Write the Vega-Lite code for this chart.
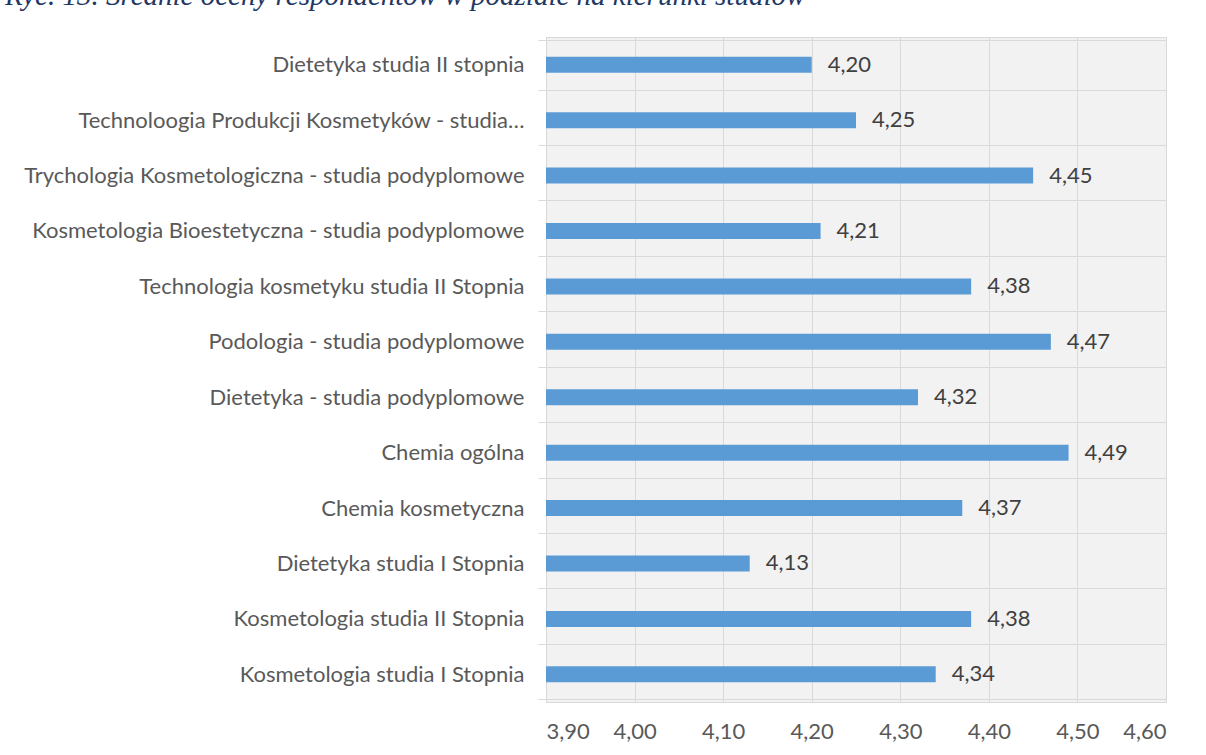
{
  "$schema": "https://vega.github.io/schema/vega-lite/v6.json",
  "autosize": {"type": "none"},
  "padding": {"left": 546, "top": 37, "right": 40, "bottom": 53},
  "width": 620,
  "height": 665,
  "background": "white",
  "title": {
    "text": "Ryc. 13. Średnie oceny respondentów w podziale na kierunki studiów",
    "anchor": "start",
    "frame": "group",
    "baseline": "alphabetic",
    "offset": 10,
    "dy": 18,
    "dx": -541,
    "font": "Liberation Serif",
    "fontSize": 29,
    "fontStyle": "italic",
    "fontWeight": "normal",
    "color": "#1F3864"
  },
  "config": {
    "locale": {"number": {"decimal": ",", "thousands": " ", "grouping": [3], "currency": ["", " zł"]}},
    "view": {"fill": "#f2f2f2", "stroke": "#d9d9d9", "strokeWidth": 1}
  },
  "data": {
    "values": [
      {"kierunek": "Dietetyka studia II stopnia", "ocena": 4.20},
      {"kierunek": "Technoloogia Produkcji Kosmetyków - studia…", "ocena": 4.25},
      {"kierunek": "Trychologia Kosmetologiczna - studia podyplomowe", "ocena": 4.45},
      {"kierunek": "Kosmetologia Bioestetyczna - studia podyplomowe", "ocena": 4.21},
      {"kierunek": "Technologia kosmetyku studia II Stopnia", "ocena": 4.38},
      {"kierunek": "Podologia - studia podyplomowe", "ocena": 4.47},
      {"kierunek": "Dietetyka - studia podyplomowe", "ocena": 4.32},
      {"kierunek": "Chemia ogólna", "ocena": 4.49},
      {"kierunek": "Chemia kosmetyczna", "ocena": 4.37},
      {"kierunek": "Dietetyka studia I Stopnia", "ocena": 4.13},
      {"kierunek": "Kosmetologia studia II Stopnia", "ocena": 4.38},
      {"kierunek": "Kosmetologia studia I Stopnia", "ocena": 4.34}
    ]
  },
  "encoding": {
    "y": {
      "field": "kierunek",
      "type": "nominal",
      "sort": null,
      "axis": {
        "title": null,
        "tickBand": "extent",
        "grid": true,
        "gridColor": "#d9d9d9",
        "gridWidth": 1,
        "ticks": true,
        "tickSize": 8,
        "tickColor": "#d9d9d9",
        "domain": false,
        "labelFont": "Lato",
        "labelFontSize": 22,
        "labelColor": "#595959",
        "labelPadding": 14,
        "labelLimit": 600
      }
    }
  },
  "layer": [
    {
      "mark": {"type": "bar", "color": "#5B9BD5", "size": 16},
      "encoding": {
        "x": {
          "field": "ocena",
          "type": "quantitative",
          "scale": {"domain": [3.9, 4.6], "zero": false, "nice": false},
          "axis": {
            "title": null,
            "values": [3.9, 4.0, 4.1, 4.2, 4.3, 4.4, 4.5, 4.6],
            "format": ".2f",
            "grid": true,
            "gridColor": "#d9d9d9",
            "gridWidth": 1,
            "ticks": false,
            "domain": false,
            "labelFont": "Lato",
            "labelFontSize": 22,
            "labelColor": "#595959",
            "labelPadding": 19
          }
        },
        "x2": {"datum": 3.9}
      }
    },
    {
      "mark": {"type": "text", "align": "left", "baseline": "middle", "dx": 16, "font": "Lato", "fontSize": 22, "color": "#404040"},
      "encoding": {
        "x": {"field": "ocena", "type": "quantitative"},
        "text": {"field": "ocena", "type": "quantitative", "format": ".2f"}
      }
    }
  ]
}
